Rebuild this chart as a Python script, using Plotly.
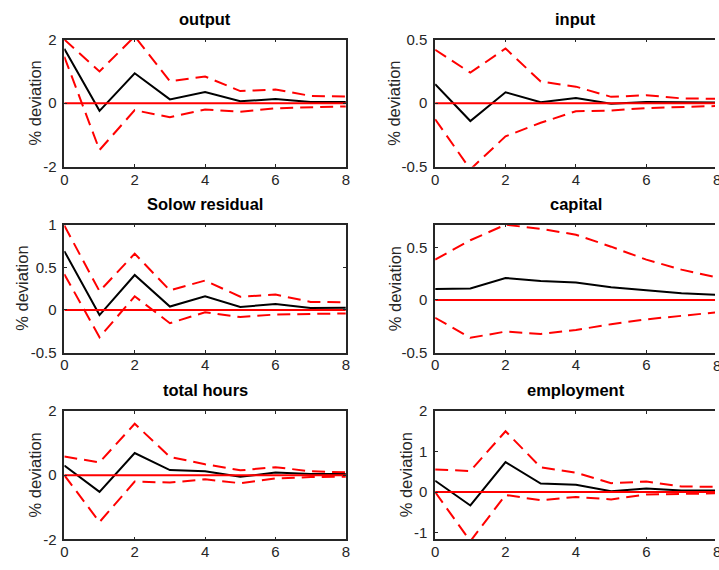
import plotly.graph_objects as go

# Impulse responses (% deviation) over horizons 0..8, with upper/lower bands
horizon = [0, 1, 2, 3, 4, 5, 6, 7, 8]

output_irf = [1.71, -0.24, 0.94, 0.12, 0.35, 0.06, 0.13, 0.04, 0.04]
output_hi = [2.0, 1.0, 2.1, 0.69, 0.84, 0.38, 0.43, 0.23, 0.21]
output_lo = [1.46, -1.47, -0.22, -0.44, -0.2, -0.27, -0.16, -0.13, -0.1]

input_irf = [0.15, -0.14, 0.086, 0.008, 0.04, -0.005, 0.01, 0.005, 0.005]
input_hi = [0.42, 0.24, 0.43, 0.17, 0.13, 0.05, 0.063, 0.038, 0.035]
input_lo = [-0.126, -0.52, -0.26, -0.154, -0.063, -0.058, -0.038, -0.028, -0.022]

solow_irf = [0.69, -0.06, 0.41, 0.04, 0.16, 0.035, 0.07, 0.023, 0.027]
solow_hi = [0.99, 0.22, 0.66, 0.23, 0.345, 0.155, 0.18, 0.095, 0.09]
solow_lo = [0.42, -0.32, 0.16, -0.155, -0.027, -0.083, -0.053, -0.045, -0.04]

capital_irf = [0.104, 0.11, 0.209, 0.18, 0.166, 0.12, 0.092, 0.064, 0.05]
capital_hi = [0.383, 0.567, 0.715, 0.675, 0.62, 0.506, 0.383, 0.288, 0.215]
capital_lo = [-0.169, -0.359, -0.30, -0.322, -0.285, -0.23, -0.184, -0.147, -0.117]

hours_irf = [0.30, -0.52, 0.69, 0.16, 0.12, -0.05, 0.08, 0.04, 0.04]
hours_hi = [0.58, 0.40, 1.6, 0.57, 0.34, 0.15, 0.25, 0.12, 0.09]
hours_lo = [0.0, -1.46, -0.2, -0.23, -0.13, -0.25, -0.1, -0.06, -0.05]

employment_irf = [0.28, -0.33, 0.74, 0.21, 0.18, 0.02, 0.09, 0.04, 0.04]
employment_hi = [0.56, 0.52, 1.5, 0.61, 0.48, 0.22, 0.26, 0.14, 0.13]
employment_lo = [0.0, -1.21, -0.07, -0.2, -0.12, -0.18, -0.06, -0.04, -0.03]

panel_titles = ["output", "input", "Solow residual", "capital", "total hours", "employment"]
y_ranges = [[-2, 2], [-0.5, 0.5], [-0.5, 1], [-0.5, 0.715], [-2, 2], [-1.165, 2]]
y_ticks = [[-2, 0, 2], [-0.5, 0, 0.5], [-0.5, 0, 0.5, 1], [-0.5, 0, 0.5], [-2, 0, 2], [-1, 0, 1, 2]]
x_ticks = [0, 2, 4, 6, 8]
y_label = "% deviation"

series = [
    (output_irf, output_hi, output_lo),
    (input_irf, input_hi, input_lo),
    (solow_irf, solow_hi, solow_lo),
    (capital_irf, capital_hi, capital_lo),
    (hours_irf, hours_hi, hours_lo),
    (employment_irf, employment_hi, employment_lo),
]

W, H = 719, 570
FONT = "Liberation Sans, Arial, Helvetica, sans-serif"
AX = "#262626"

# panel boxes in pixels: columns (left, right), rows (top, bottom)
col_px = [(61.0, 345.7), (436.0, 720.7)]
row_px = [(31.5, 162.7), (222.3, 354.2), (414.3, 546.7)]
ylabel_x_px = [31.7, 395.0, 18.3, 395.0, 31.7, 406.7]


def tick_text(values):
    # plain hyphen-minus labels
    return [f"{v:g}" for v in values]


fig = go.Figure()
annotations = []

for i, (mid, hi, lo) in enumerate(series):
    r, c = divmod(i, 2)
    xl, xr = col_px[c]
    yt, yb = row_px[r]
    n = i + 1
    xa = "x" if n == 1 else f"x{n}"
    ya = "y" if n == 1 else f"y{n}"

    # visible part of the panel (right column runs past the canvas edge)
    x_end = min(xr, W)
    x_max = 8 * (x_end - xl) / (xr - xl)

    fig.add_trace(go.Scatter(x=horizon, y=mid, mode="lines", xaxis=xa, yaxis=ya,
                             line=dict(color="black", width=2), showlegend=False))
    fig.add_trace(go.Scatter(x=horizon, y=hi, mode="lines", xaxis=xa, yaxis=ya,
                             line=dict(color="#ff0000", width=2, dash="13px,7px"),
                             showlegend=False))
    fig.add_trace(go.Scatter(x=horizon, y=lo, mode="lines", xaxis=xa, yaxis=ya,
                             line=dict(color="#ff0000", width=2, dash="13px,7px"),
                             showlegend=False))
    fig.add_trace(go.Scatter(x=[horizon[0], horizon[-1]], y=[0, 0], mode="lines",
                             xaxis=xa, yaxis=ya,
                             line=dict(color="#ff0000", width=2), showlegend=False))

    xdom = [xl / W, x_end / W]
    ydom = [1 - yb / H, 1 - yt / H]
    full = x_end >= xr - 0.01

    fig.layout[f"xaxis{'' if n == 1 else n}"] = dict(
        domain=xdom, anchor=ya, range=[0, x_max],
        tickvals=x_ticks, ticktext=tick_text(x_ticks),
        ticks="inside", ticklen=3, tickwidth=1.2, tickcolor=AX,
        showline=True, linecolor=AX, linewidth=1.6, mirror="ticks",
        showgrid=False, zeroline=False, ticklabelstandoff=-2,
        tickfont=dict(family=FONT, size=15, color=AX),
    )
    fig.layout[f"yaxis{'' if n == 1 else n}"] = dict(
        domain=ydom, anchor=xa, range=y_ranges[i],
        tickvals=y_ticks[i], ticktext=tick_text(y_ticks[i]),
        ticks="inside", ticklen=3, tickwidth=1.2, tickcolor=AX,
        showline=True, linecolor=AX, linewidth=1.6,
        mirror="ticks" if full else False,
        showgrid=False, zeroline=False, ticklabelstandoff=3,
        tickfont=dict(family=FONT, size=15, color=AX),
    )

    annotations.append(dict(
        text=f"<b>{panel_titles[i]}</b>", xref="paper", yref="paper",
        x=(xl + xr) / 2 / W, y=1 - yt / H, xanchor="center", yanchor="bottom",
        yshift=10, showarrow=False, font=dict(family=FONT, size=16.5, color="black"),
    ))
    annotations.append(dict(
        text=y_label, xref="paper", yref="paper", textangle=-90,
        x=ylabel_x_px[i] / W, y=1 - (yt + yb) / 2 / H,
        xanchor="center", yanchor="middle", showarrow=False,
        font=dict(family=FONT, size=16.5, color=AX),
    ))
    if not full:
        # last horizon label, clipped at the canvas edge
        annotations.append(dict(
            text="8", xref="paper", yref="paper", x=xr / W, y=1 - yb / H,
            xanchor="center", yanchor="top", yshift=-2, showarrow=False,
            font=dict(family=FONT, size=15, color=AX),
        ))

fig.update_layout(
    width=W, height=H, margin=dict(l=0, r=0, t=0, b=0),
    paper_bgcolor="white", plot_bgcolor="white",
    annotations=annotations,
)

fig.write_html("out.html")
